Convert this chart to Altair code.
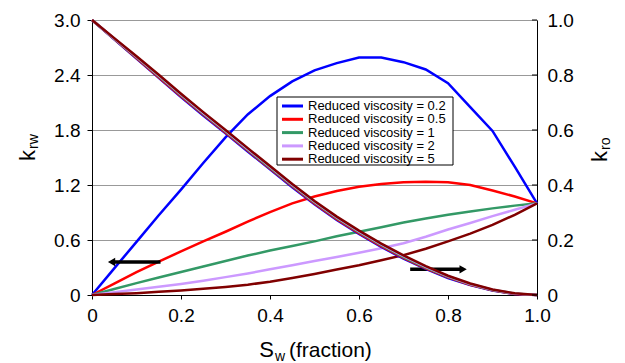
import altair as alt
import pandas as pd

sw = [0.0, 0.05, 0.1, 0.15, 0.2, 0.25, 0.3, 0.35, 0.4, 0.45, 0.5,
      0.55, 0.6, 0.65, 0.7, 0.75, 0.8, 0.85, 0.9, 0.95, 1.0]

series = ["Reduced viscosity = 0.2", "Reduced viscosity = 0.5",
          "Reduced viscosity = 1", "Reduced viscosity = 2",
          "Reduced viscosity = 5"]
colors = ["#0000FF", "#FF0000", "#339966", "#CC99FF", "#800000"]

krw_02 = [0, 0.29, 0.58, 0.87, 1.15, 1.44, 1.72, 1.97, 2.17, 2.33, 2.45,
          2.53, 2.59, 2.59, 2.54, 2.46, 2.31, 2.05, 1.79, 1.40, 1.0]
krw_05 = [0, 0.125, 0.25, 0.365, 0.475, 0.585, 0.69, 0.80, 0.905, 1.00, 1.075,
          1.135, 1.18, 1.21, 1.23, 1.235, 1.23, 1.20, 1.14, 1.075, 1.0]
krw_1 = [0, 0.065, 0.13, 0.19, 0.25, 0.31, 0.37, 0.43, 0.485, 0.535, 0.585,
         0.64, 0.69, 0.74, 0.79, 0.835, 0.875, 0.91, 0.945, 0.975, 1.0]
krw_2 = [0, 0.03, 0.06, 0.09, 0.12, 0.155, 0.195, 0.235, 0.28, 0.325, 0.37,
         0.415, 0.46, 0.51, 0.565, 0.635, 0.715, 0.785, 0.86, 0.93, 1.0]
krw_5 = [0, 0.01, 0.02, 0.035, 0.05, 0.068, 0.088, 0.112, 0.145, 0.185, 0.23,
         0.278, 0.325, 0.38, 0.435, 0.505, 0.585, 0.67, 0.765, 0.875, 1.0]

kro_02 = [1.0, 0.930, 0.860, 0.790, 0.720, 0.653, 0.588, 0.522, 0.457, 0.392, 0.330,
          0.273, 0.222, 0.175, 0.132, 0.095, 0.062, 0.036, 0.016, 0.004, 0.0]
kro_05 = [1.0, 0.931, 0.862, 0.792, 0.723, 0.656, 0.591, 0.525, 0.460, 0.395, 0.333,
          0.276, 0.225, 0.178, 0.135, 0.097, 0.064, 0.037, 0.017, 0.004, 0.0]
kro_1 = [1.0, 0.932, 0.864, 0.795, 0.726, 0.659, 0.594, 0.528, 0.463, 0.398, 0.336,
         0.279, 0.228, 0.181, 0.138, 0.100, 0.066, 0.039, 0.018, 0.005, 0.0]
kro_2 = [1.0, 0.933, 0.866, 0.798, 0.729, 0.662, 0.597, 0.531, 0.466, 0.401, 0.339,
         0.282, 0.231, 0.184, 0.141, 0.102, 0.068, 0.040, 0.019, 0.005, 0.0]
kro_5 = [1.0, 0.934, 0.868, 0.801, 0.732, 0.665, 0.600, 0.534, 0.469, 0.404, 0.342,
         0.285, 0.234, 0.187, 0.144, 0.105, 0.070, 0.042, 0.020, 0.006, 0.0]

krw_all = [krw_02, krw_05, krw_1, krw_2, krw_5]
kro_all = [kro_02, kro_05, kro_1, kro_2, kro_5]

# arrows: (tail Sw, head Sw, krw level)
arrow_tail = [0.154, 0.715]
arrow_head = [0.035, 0.843]
arrow_level = [0.36, 0.28]
arrow_shape = ["triangle-left", "triangle-right"]

x_ticks = [0, 0.2, 0.4, 0.6, 0.8, 1.0]
krw_ticks = [0, 0.6, 1.2, 1.8, 2.4, 3.0]
kro_ticks = [0, 0.2, 0.4, 0.6, 0.8, 1.0]

FONT = "Liberation Sans"
label_expr = "datum.value == 0 ? '0' : format(datum.value, '.1f')"

rows_w, rows_o = [], []
for i, name in enumerate(series):
    for j, s in enumerate(sw):
        rows_w.append({"sw": s, "krw": krw_all[i][j], "series": name, "k": i})
        rows_o.append({"sw": s, "kro": kro_all[i][j], "series": name, "k": i})
df_w = pd.DataFrame(rows_w)
df_o = pd.DataFrame(rows_o)

df_ar = pd.DataFrame({"tail": arrow_tail, "head": arrow_head,
                      "krw": arrow_level, "shape": arrow_shape})
df_ar["tip"] = [h + (0.009 if h < t else -0.009) for h, t in zip(arrow_head, arrow_tail)]

x_enc = alt.X("sw:Q", scale=alt.Scale(domain=[0, 1], nice=False),
              axis=alt.Axis(values=x_ticks, labelExpr=label_expr, title=None,
                            grid=False, tickSize=4, labelPadding=7, labelFlush=False,
                            labelFontSize=19, labelFont=FONT, labelColor="black",
                            tickColor="black", domainColor="black"))

color_enc = alt.Color("series:N", scale=alt.Scale(domain=series, range=colors), legend=None)

y_w = alt.Y("krw:Q", scale=alt.Scale(domain=[0, 3], nice=False),
            axis=alt.Axis(values=krw_ticks, labelExpr=label_expr, title=None,
                          grid=True, gridColor="#999999", gridWidth=1, labelFlush=False,
                          tickSize=5, labelPadding=7, labelFontSize=19,
                          labelFont=FONT, labelColor="black", tickColor="black",
                          domainColor="black"))

krw_lines = alt.Chart(df_w).mark_line(strokeWidth=2.5).encode(
    x=x_enc, y=y_w, color=color_enc, order="sw:Q")

arrow_body = alt.Chart(df_ar).mark_rule(color="black", strokeWidth=3.5).encode(
    x="tail:Q", x2="tip:Q", y="krw:Q")
arrow_tip = alt.Chart(df_ar).mark_point(filled=True, color="black", size=70, opacity=1).encode(
    x="tip:Q", y="krw:Q", shape=alt.Shape("shape:N", scale=None))

krw_layer = alt.layer(krw_lines, arrow_body, arrow_tip)

y_o = alt.Y("kro:Q", scale=alt.Scale(domain=[0, 1], nice=False),
            axis=alt.Axis(orient="right", values=kro_ticks, labelExpr=label_expr,
                          title=None, grid=False, ticks=False, tickSize=0, labelFlush=False,
                          labelPadding=10, labelFontSize=19, labelFont=FONT,
                          labelColor="black", domainColor="black"))

kro_lines = alt.Chart(df_o).mark_line(strokeWidth=2.5).encode(
    x="sw:Q", y=y_o, color=alt.Color("series:N"), order="sw:Q")

df_rt = pd.DataFrame({"kro": kro_ticks})
right_ticks = alt.Chart(df_rt).mark_rule(color="black", strokeWidth=1).encode(
    x=alt.value(440), x2=alt.value(445), y=alt.Y("kro:Q"))

kro_layer = alt.layer(kro_lines, right_ticks)

one = pd.DataFrame({"a": [0]})


def txt(text, x, y, size, angle=0, align="left"):
    return alt.Chart(one).mark_text(text=text, fontSize=size, font=FONT, color="black",
                                    angle=angle, align=align, baseline="alphabetic").encode(
        x=alt.value(x), y=alt.value(y))


titles = alt.layer(
    txt("k", -57, 130, 22, 270, "right"),
    txt("rw", -54, 129, 14, 270, "left"),
    txt("k", 515, 131, 22, 270, "right"),
    txt("ro", 518, 130, 14, 270, "left"),
    txt("S", 182, 337, 22, 0, "right"),
    txt("w", 183, 341, 14, 0, "left"),
    txt("(fraction)", 197, 337, 21, 0, "left"),
)

# legend box drawn as marks (pixel positions inside the plot area)
df_leg = pd.DataFrame({"series": series, "color": colors, "i": list(range(len(series)))})
leg_base = alt.Chart(df_leg).transform_calculate(py="86 + 13.3 * datum.i")
leg_box = alt.Chart(one).mark_rect(fill="white", stroke="black", strokeWidth=1).encode(
    x=alt.value(185), x2=alt.value(361), y=alt.value(77), y2=alt.value(145))
leg_sym = leg_base.mark_rule(strokeWidth=3).encode(
    x=alt.value(190), x2=alt.value(211), y=alt.Y("py:Q", scale=None),
    color=alt.Color("color:N", scale=None))
leg_txt = leg_base.mark_text(align="left", baseline="middle", fontSize=13, font=FONT,
                             color="black").encode(
    x=alt.value(216), y=alt.Y("py:Q", scale=None), text="series:N")
legend = alt.layer(leg_box, leg_sym, leg_txt)

chart = alt.layer(krw_layer, kro_layer, titles, legend).resolve_scale(y="independent").properties(
    width=445, height=275,
    autosize=alt.AutoSizeParams(type="none"),
    padding={"left": 84, "top": 12, "right": 80, "bottom": 68},
).configure_view(stroke="black", strokeWidth=1).configure(font=FONT)

chart.save("out.html", embed_options={"renderer": "svg", "actions": False})
